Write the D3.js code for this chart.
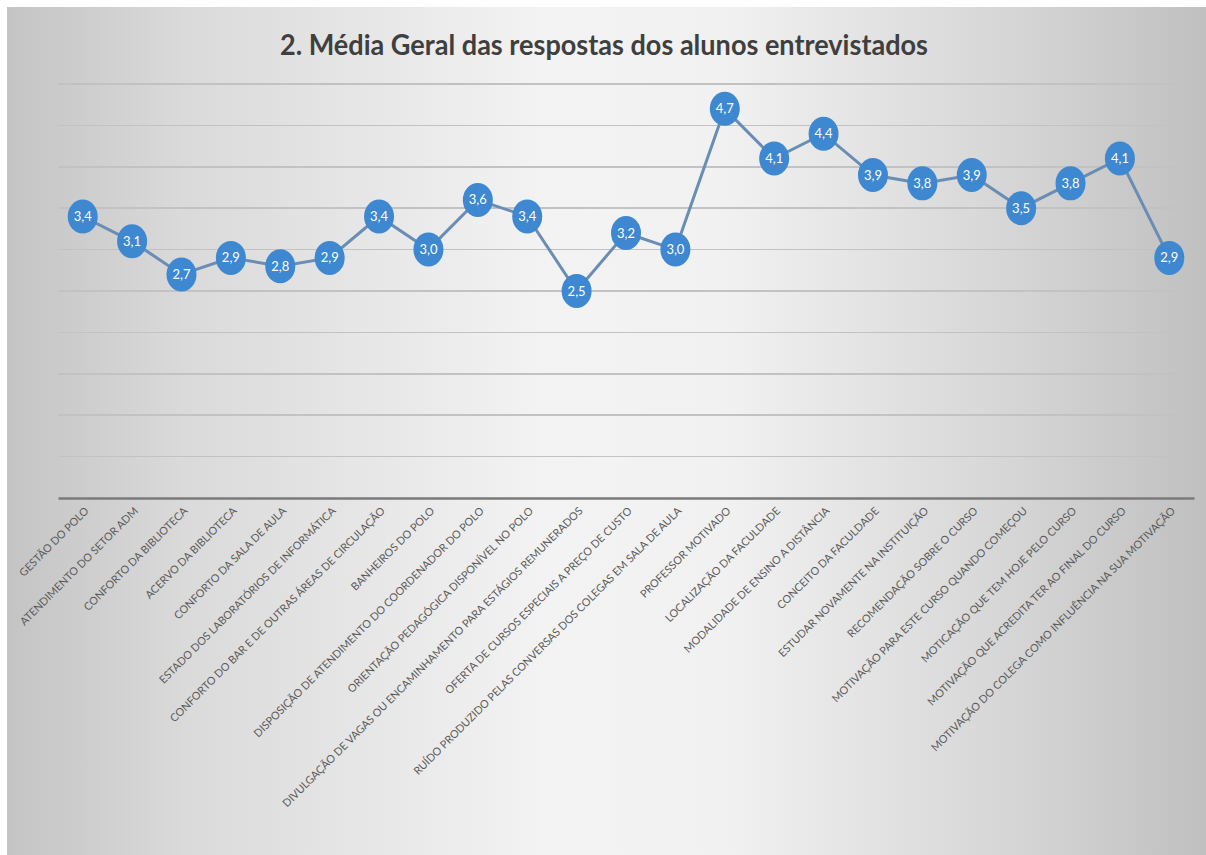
<!DOCTYPE html>
<html>
<head>
  <meta charset="utf-8">
  <title>Média Geral das respostas</title>
  <script src="https://d3js.org/d3.v7.min.js"></script>
  <style>
    body { margin: 0; background: #fff; }
    .grid line { stroke: #c2c2c2; stroke-width: 1.5px; shape-rendering: crispEdges; }
    .x.axis path { stroke: #7a7a7a; stroke-width: 2.5px; }
    .x.axis line { display: none; }
    .x.axis text { fill: #595959; font-family: Lato, "Open Sans", sans-serif; font-size: 10.8px; }
    .line { fill: none; stroke: #6a8db5; stroke-width: 3px; }
    .dot { fill: #3d88d0; }
    .val { fill: #fff; font-family: Lato, "Open Sans", sans-serif; font-size: 13px; }
  </style>
</head>
<body>
<script>
  var categories = [
    "GESTÃO DO POLO",
    "ATENDIMENTO DO SETOR ADM",
    "CONFORTO DA BIBLIOTECA",
    "ACERVO DA BIBLIOTECA",
    "CONFORTO DA SALA DE AULA",
    "ESTADO DOS LABORATÓRIOS DE INFORMÁTICA",
    "CONFORTO DO BAR E DE OUTRAS ÁREAS DE CIRCULAÇÃO",
    "BANHEIROS DO POLO",
    "DISPOSIÇÃO DE ATENDIMENTO DO COORDENADOR DO POLO",
    "ORIENTAÇÃO PEDAGÓGICA DISPONÍVEL NO POLO",
    "DIVULGAÇÃO DE VAGAS OU ENCAMINHAMENTO PARA ESTÁGIOS REMUNERADOS",
    "OFERTA DE CURSOS ESPECIAIS A PREÇO DE CUSTO",
    "RUÍDO PRODUZIDO PELAS CONVERSAS DOS COLEGAS EM SALA DE AULA",
    "PROFESSOR MOTIVADO",
    "LOCALIZAÇÃO DA FACULDADE",
    "MODALIDADE DE ENSINO A DISTÂNCIA",
    "CONCEITO DA FACULDADE",
    "ESTUDAR NOVAMENTE NA INSTITUIÇÃO",
    "RECOMENDAÇÃO SOBRE O CURSO",
    "MOTIVAÇÃO PARA ESTE CURSO QUANDO COMEÇOU",
    "MOTICAÇÃO QUE TEM HOJE PELO CURSO",
    "MOTIVAÇÃO QUE ACREDITA TER AO FINAL DO CURSO",
    "MOTIVAÇÃO DO COLEGA COMO INFLUÊNCIA NA SUA MOTIVAÇÃO"
  ];
  var values = [3.4, 3.1, 2.7, 2.9, 2.8, 2.9, 3.4, 3.0, 3.6, 3.4, 2.5, 3.2,
                3.0, 4.7, 4.1, 4.4, 3.9, 3.8, 3.9, 3.5, 3.8, 4.1, 2.9];
  var gridTicks = [0.5, 1, 1.5, 2, 2.5, 3, 3.5, 4, 4.5, 5];
  var title = "2. Média Geral das respostas dos alunos entrevistados";

  var W = 1206, H = 855;
  var plotLeft = 58, plotRight = 1194, plotTop = 84, plotBottom = 498;

  var svg = d3.select("body").append("svg")
      .attr("width", W)
      .attr("height", H);

  // background: white frame + grey gradient
  var defs = svg.append("defs");
  var grad = defs.append("linearGradient").attr("id", "bg");
  grad.append("stop").attr("offset", "0%").attr("stop-color", "#c4c4c4");
  grad.append("stop").attr("offset", "15%").attr("stop-color", "#dadada");
  grad.append("stop").attr("offset", "45%").attr("stop-color", "#f3f3f3");
  grad.append("stop").attr("offset", "60%").attr("stop-color", "#f1f1f1");
  grad.append("stop").attr("offset", "85%").attr("stop-color", "#d4d4d4");
  grad.append("stop").attr("offset", "100%").attr("stop-color", "#c0c0c0");

  svg.append("rect").attr("width", W).attr("height", H).attr("fill", "#fff");
  svg.append("rect")
      .attr("x", 7).attr("y", 7)
      .attr("width", W - 7).attr("height", H - 7)
      .attr("fill", "url(#bg)");

  var x = d3.scaleBand()
      .domain(categories)
      .range([plotLeft, plotRight]);

  var y = d3.scaleLinear()
      .domain([0, 5])
      .range([plotBottom, plotTop]);

  svg.append("text")
      .attr("x", 604)
      .attr("y", 55)
      .attr("text-anchor", "middle")
      .attr("fill", "#3f3f3f")
      .attr("font-family", "Lato, 'Open Sans', sans-serif")
      .attr("font-weight", "bold")
      .attr("font-size", "28px")
      .attr("textLength", 648)
      .attr("lengthAdjust", "spacingAndGlyphs")
      .text(title);

  svg.append("g")
      .attr("class", "grid")
    .selectAll("line")
    .data(gridTicks)
    .enter().append("line")
      .attr("x1", plotLeft)
      .attr("x2", plotRight - 4)
      .attr("y1", function(d) { return y(d); })
      .attr("y2", function(d) { return y(d); });

  var xAxis = d3.axisBottom(x).tickSize(0).tickSizeOuter(0);

  svg.append("g")
      .attr("class", "x axis")
      .attr("transform", "translate(0," + plotBottom + ")")
      .call(xAxis)
    .selectAll("text")
      .attr("text-anchor", "end")
      .attr("transform", "translate(4,11) rotate(-45)")
      .attr("dy", "0.35em")
      .attr("y", 0);

  var line = d3.line()
      .x(function(d, i) { return x(categories[i]) + x.bandwidth() / 2; })
      .y(function(d) { return y(d); });

  svg.append("path")
      .datum(values)
      .attr("class", "line")
      .attr("d", line);

  var fmt = function(v) { return d3.format(".1f")(v).replace(".", ","); };

  var pts = svg.append("g").selectAll("g")
      .data(values)
    .enter().append("g")
      .attr("transform", function(d, i) {
        return "translate(" + (x(categories[i]) + x.bandwidth() / 2) + "," + y(d) + ")";
      });

  pts.append("ellipse")
      .attr("class", "dot")
      .attr("rx", 15)
      .attr("ry", 17);

  pts.append("text")
      .attr("class", "val")
      .attr("text-anchor", "middle")
      .attr("dy", "0.35em")
      .text(fmt);
</script>
</body>
</html>
